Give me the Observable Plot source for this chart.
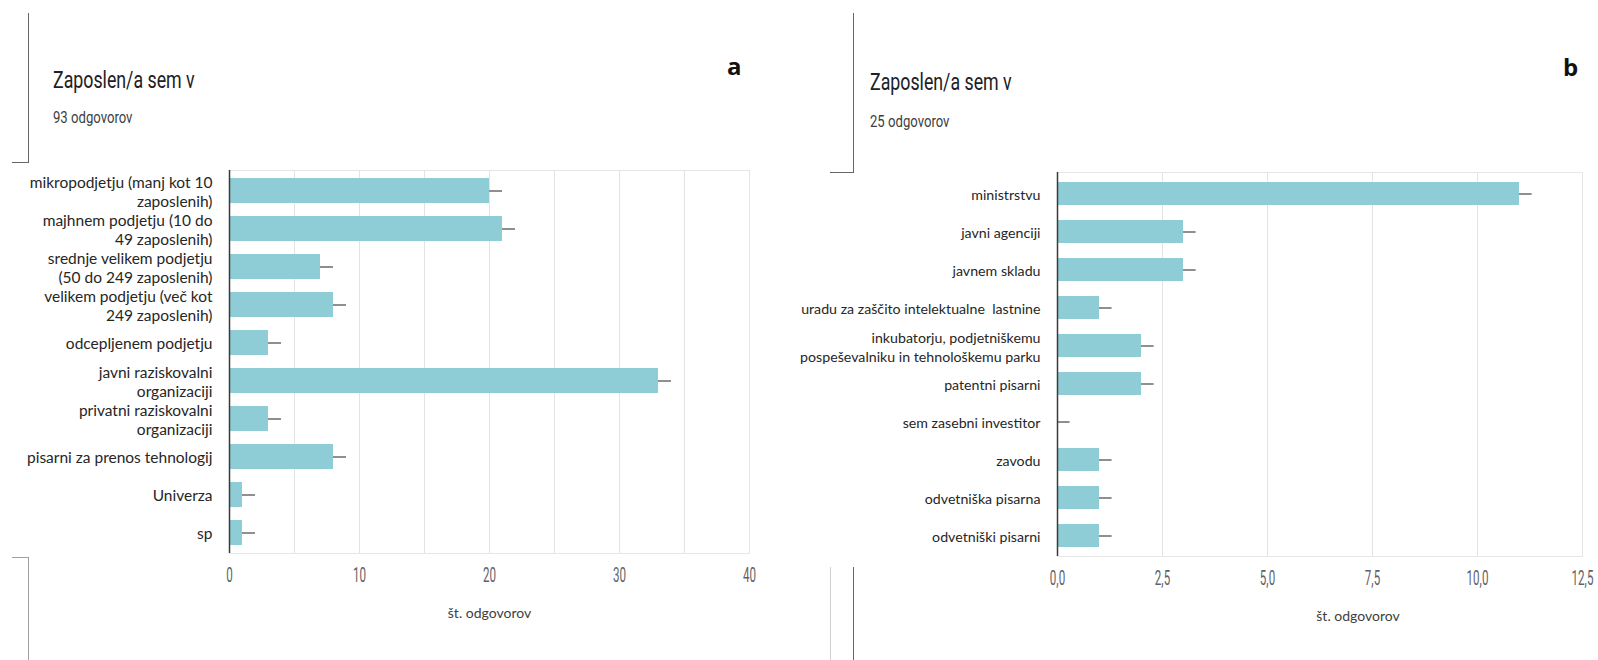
<!DOCTYPE html>
<html>
<head>
<meta charset="utf-8">
<script src="https://cdn.jsdelivr.net/npm/d3@7"></script>
<script src="https://cdn.jsdelivr.net/npm/@observablehq/plot@0.6"></script>
<style>
  body { margin: 0; background: #fff; }
  #page { position: relative; width: 1598px; height: 660px; overflow: hidden; background: #fff; font-family: Lato, sans-serif; }
  .title { position: absolute; font-family: Roboto, sans-serif; font-size: 24px; line-height: 24px; color: #202124; transform: scaleX(.74); transform-origin: 0 0; white-space: nowrap; }
  .sub { position: absolute; font-family: Roboto, sans-serif; font-size: 16px; line-height: 16px; color: #3c4043; transform: scaleX(.82); transform-origin: 0 0; white-space: nowrap; }
  .tag { position: absolute; font-family: "Open Sans", sans-serif; font-weight: 700; font-size: 24px; line-height: 24px; color: #111; }
  .rule { position: absolute; background: #666; }
  .rule.soft { background: #a0a0a0; }
  .rule.faint { background: #d0d0d0; }
  .panel { position: absolute; top: 150px; }
  .panel svg { overflow: visible; display: block; }
</style>
</head>
<body>
<div id="page">
  <!-- card edges -->
  <div class="rule" style="left:28px;top:13px;width:1px;height:150px"></div>
  <div class="rule" style="left:12px;top:162px;width:17px;height:1px"></div>
  <div class="rule soft" style="left:28px;top:557px;width:1px;height:103px"></div>
  <div class="rule soft" style="left:12px;top:557px;width:17px;height:1px"></div>
  <div class="rule" style="left:853px;top:13px;width:1px;height:160px"></div>
  <div class="rule" style="left:830px;top:172px;width:24px;height:1px"></div>
  <div class="rule" style="left:853px;top:567px;width:1px;height:93px"></div>
  <div class="rule faint" style="left:830px;top:567px;width:1px;height:93px"></div>

  <div class="title" style="left:53px;top:68px">Zaposlen/a sem v</div>
  <div class="sub" style="left:53px;top:110px">93 odgovorov</div>
  <div class="tag" style="left:727px;top:54px">a</div>

  <div class="title" style="left:870px;top:70px">Zaposlen/a sem v</div>
  <div class="sub" style="left:870px;top:114px">25 odgovorov</div>
  <div class="tag" style="left:1563px;top:55px">b</div>

  <div class="panel" id="panelA" style="left:0px"></div>
  <div class="panel" id="panelB" style="left:780px"></div>
</div>
<script>
// Panel a — employment of the 93 respondents
const categoriesA = [
  "mikropodjetju (manj kot 10\nzaposlenih)",
  "majhnem podjetju (10 do\n49 zaposlenih)",
  "srednje velikem podjetju\n(50 do 249 zaposlenih)",
  "velikem podjetju (več kot\n249 zaposlenih)",
  "odcepljenem podjetju",
  "javni raziskovalni\norganizaciji",
  "privatni raziskovalni\norganizaciji",
  "pisarni za prenos tehnologij",
  "Univerza",
  "sp"
];
const countsA = [20, 21, 7, 8, 3, 33, 3, 8, 1, 1];
const errorA = 1;
const ticksA = [0, 10, 20, 30, 40];
const gridA = [5, 10, 15, 20, 25, 30, 35, 40];

// Panel b — employment of the 25 respondents
const categoriesB = [
  "ministrstvu",
  "javni agenciji",
  "javnem skladu",
  "uradu za zaščito intelektualne  lastnine",
  "inkubatorju, podjetniškemu\npospeševalniku in tehnološkemu parku",
  "patentni pisarni",
  "sem zasebni investitor",
  "zavodu",
  "odvetniška pisarna",
  "odvetniški pisarni"
];
const countsB = [11, 3, 3, 1, 2, 2, 0, 1, 1, 1];
const errorB = 0.3;
const ticksB = [0, 2.5, 5, 7.5, 10, 12.5];
const gridB = [2.5, 5, 7.5, 10, 12.5];

const axisTitle = "št. odgovorov";

function barPanel({categories, counts, err, ticks, grid, fmt, width, marginLeft, marginRight, marginTop, marginBottom, paddingInner, labelSize, labelLead, titleDx}) {
  const rows = categories.map((label, i) => ({label, value: counts[i]}));
  const svg = Plot.plot({
    width,
    height: 510,
    marginLeft, marginRight, marginTop, marginBottom,
    style: {background: "transparent", overflow: "visible"},
    x: {domain: [ticks[0], ticks[ticks.length - 1]]},
    y: {domain: categories, paddingInner, paddingOuter: 0.2},
    marks: [
      Plot.gridX(grid, {stroke: "#e3e3e3", strokeOpacity: 1}),
      Plot.frame({stroke: "#e6e6e6"}),
      Plot.barX(rows, {y: "label", x: "value", fill: "#8ecdd6"}),
      Plot.ruleY(rows, {y: "label", x1: "value", x2: d => d.value + err, stroke: "#8f8f8f", strokeWidth: 2}),
      Plot.ruleX([0], {stroke: "#3a3a3a", strokeWidth: 1.5}),
      Plot.axisX(ticks, {tickSize: 0, tickPadding: 14, fontSize: 20, fontFamily: "Roboto", fill: "#5f6368", label: null, tickFormat: fmt}),
      Plot.axisY({tickSize: 0, tickPadding: 17, fontSize: labelSize, fontFamily: "Lato", lineHeight: labelLead, fill: "#262626", label: null}),
      Plot.text([axisTitle], {frameAnchor: "bottom", dy: 60, dx: titleDx, lineAnchor: "middle", fontSize: 14, fontFamily: "Lato", fill: "#404040"})
    ]
  });
  // narrow, condensed look of the value ticks
  svg.querySelectorAll('g[aria-label="x-axis tick label"] text').forEach(t => {
    const tr = t.getAttribute("transform") || "";
    t.setAttribute("transform", tr + " scale(0.58,1)");
  });
  return svg;
}

document.getElementById("panelA").append(barPanel({
  categories: categoriesA, counts: countsA, err: errorA, ticks: ticksA, grid: gridA,
  fmt: d => String(d),
  width: 780, marginLeft: 229, marginRight: 31, marginTop: 20, marginBottom: 107,
  paddingInner: 0.34, labelSize: 15.5, labelLead: 1.23, titleDx: 0
}));

document.getElementById("panelB").append(barPanel({
  categories: categoriesB, counts: countsB, err: errorB, ticks: ticksB, grid: gridB,
  fmt: d => d.toFixed(1).replace(".", ","),
  width: 818, marginLeft: 277, marginRight: 16, marginTop: 22, marginBottom: 104,
  paddingInner: 0.4, labelSize: 14.2, labelLead: 1.35, titleDx: 38
}));
</script>
</body>
</html>
